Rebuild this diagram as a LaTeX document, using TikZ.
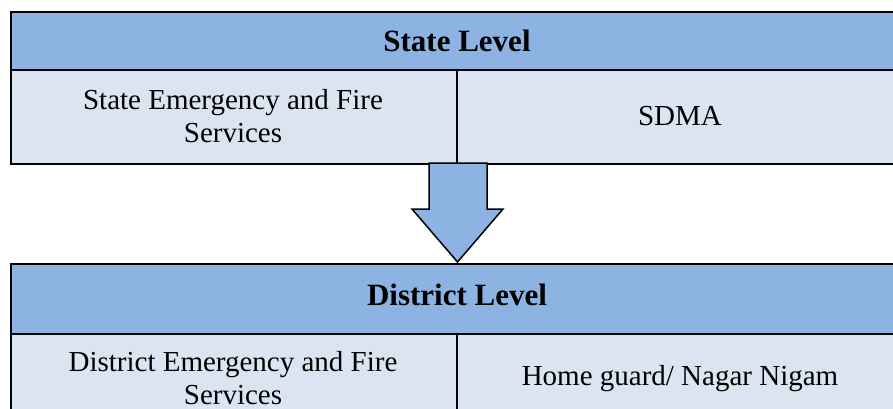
\documentclass[tikz,border=0pt]{standalone}
\usepackage{fontspec}
\setmainfont{Liberation Serif}
\definecolor{hdrblue}{HTML}{8DB3E2}
\definecolor{rowblue}{HTML}{DBE5F1}
\tikzset{
  cell/.style={draw=black, line width=1.8pt, inner sep=0pt, anchor=north west},
  hdr/.style={cell, fill=hdrblue, minimum width=894pt, minimum height=58pt},
  row/.style={cell, fill=rowblue},
  hdrtext/.style={inner sep=0pt, font=\fontsize{31}{36}\selectfont\bfseries},
  celltext/.style={inner sep=0pt, align=center, font=\fontsize{29}{33}\selectfont},
  blockarrow/.style={draw=black, line width=1.5pt, fill=hdrblue, line join=miter}
}
\begin{document}
\begin{tikzpicture}[x=1pt,y=1pt]
\useasboundingbox (0,0) rectangle (893,-409);
\begin{scope}
\clip (0,0) rectangle (893,-409);
% state level
\node[hdr] (sh) at (10,-11) {};
\node[row, minimum width=446pt, minimum height=94pt] (sl) at (10,-69) {};
\node[row, minimum width=448pt, minimum height=94pt] (sr) at (456,-69) {};
\node[hdrtext] (sht) at (457,-41) {State Level};
\node[celltext] (slt) at (233,-116) {State Emergency and Fire\\Services};
\node[celltext] (srt) at (680,-116) {SDMA};
% district level
\node[hdr, minimum height=70pt] (dh) at (10,-263) {};
\node[row, minimum width=446pt, minimum height=90pt] (dl) at (10,-333) {};
\node[row, minimum width=448pt, minimum height=90pt] (dr) at (456,-333) {};
\node[hdrtext] (dht) at (457,-295) {District Level};
\node[celltext] (dlt) at (233,-378) {District Emergency and Fire\\Services};
\node[celltext] (drt) at (680,-379) {Home guard/ Nagar Nigam};
% arrow
\draw[blockarrow] (429,-163) -- (487,-163) -- (487,-209) -- (503,-209) -- (457.5,-262)
  -- (412,-209) -- (429,-209) -- cycle;
\end{scope}
\end{tikzpicture}
\end{document}
